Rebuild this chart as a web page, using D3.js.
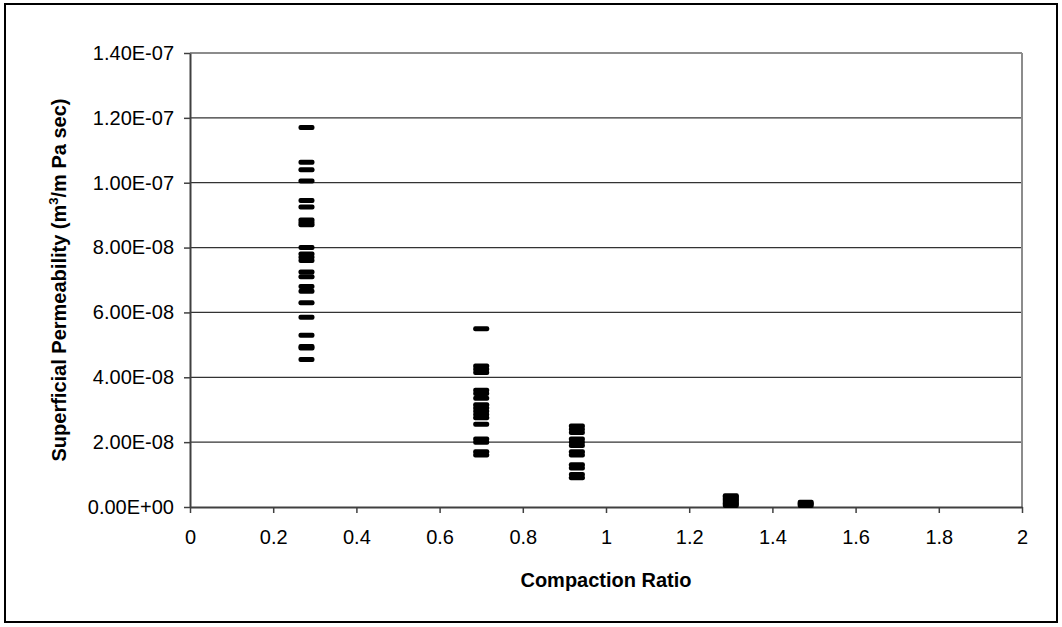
<!DOCTYPE html>
<html>
<head>
<meta charset="utf-8">
<script src="https://cdn.jsdelivr.net/npm/d3@7"></script>
<style>
  body { margin: 0; background: #fff; }
  text { font-family: "Liberation Sans", Arial, sans-serif; }
</style>
</head>
<body>
<div id="chart"></div>
<script>
// compaction ratio of each group
const ratios = [0.28, 0.70, 0.93, 1.30, 1.48];

// superficial permeability readings per group (m3/m Pa sec)
const perm028 = [1.17e-7, 1.063e-7, 1.04e-7, 1.005e-7, 0.945e-7, 0.925e-7, 0.885e-7, 0.877e-7, 0.87e-7,
                 0.80e-7, 0.78e-7, 0.77e-7, 0.76e-7, 0.725e-7, 0.71e-7, 0.68e-7, 0.665e-7, 0.63e-7,
                 0.585e-7, 0.53e-7, 0.495e-7, 0.49e-7, 0.455e-7];
const perm070 = [5.5e-8, 4.35e-8, 4.25e-8, 4.15e-8, 3.6e-8, 3.5e-8, 3.35e-8, 3.15e-8, 3.05e-8, 2.95e-8,
                 2.85e-8, 2.75e-8, 2.55e-8, 2.1e-8, 2.0e-8, 1.7e-8, 1.6e-8];
const perm093 = [2.5e-8, 2.4e-8, 2.3e-8, 2.1e-8, 2.0e-8, 1.9e-8, 1.7e-8, 1.6e-8, 1.3e-8, 1.2e-8, 1.0e-8, 0.9e-8];
const perm130 = [0.35e-8, 0.3e-8, 0.25e-8, 0.2e-8, 0.15e-8, 0.1e-8, 0.05e-8];
const perm148 = [0.15e-8, 0.1e-8, 0.05e-8];

const xTicks = [0, 0.2, 0.4, 0.6, 0.8, 1, 1.2, 1.4, 1.6, 1.8, 2];
const yTicks = [0, 2e-8, 4e-8, 6e-8, 8e-8, 1e-7, 1.2e-7, 1.4e-7];

const groups = [perm028, perm070, perm093, perm130, perm148];
const points = [];
groups.forEach((vals, i) => vals.forEach(v => points.push({ x: ratios[i], y: v })));

const W = 1062, H = 627;
const margin = { top: 53, right: 40, bottom: 120, left: 190 };
const width = W - margin.left - margin.right;
const height = H - margin.top - margin.bottom;

const svg = d3.select('#chart')
              .append('svg')
              .attr('width', W)
              .attr('height', H);

// outer frame
svg.append('rect')
   .attr('x', 5).attr('y', 4)
   .attr('width', W - 10).attr('height', H - 9)
   .attr('fill', 'none')
   .attr('stroke', '#000')
   .attr('stroke-width', 2);

const g = svg.append('g')
             .attr('transform', `translate(${margin.left}, ${margin.top})`);

const xScale = d3.scaleLinear().domain([0, 2]).range([0, width]);
const yScale = d3.scaleLinear().domain([0, 1.4e-7]).range([height, 0]);

// gridlines
g.selectAll('.grid')
 .data(yTicks.slice(1, -1))
 .enter()
 .append('line')
 .attr('class', 'grid')
 .attr('x1', 0).attr('x2', width)
 .attr('y1', d => yScale(d)).attr('y2', d => yScale(d))
 .attr('stroke', '#333')
 .attr('stroke-width', 1.2);

// plot border top/right
g.append('line')
 .attr('x1', 0).attr('x2', width).attr('y1', 0).attr('y2', 0)
 .attr('stroke', '#8c8c8c').attr('stroke-width', 2);
g.append('line')
 .attr('x1', width).attr('x2', width).attr('y1', 0).attr('y2', height)
 .attr('stroke', '#8c8c8c').attr('stroke-width', 2);

const xAxis = d3.axisBottom(xScale)
                .tickValues(xTicks)
                .tickSize(6)
                .tickSizeOuter(0)
                .tickPadding(17)
                .tickFormat(d => String(d));

const yAxis = d3.axisLeft(yScale)
                .tickValues(yTicks)
                .tickSize(6)
                .tickSizeOuter(0)
                .tickPadding(10)
                .tickFormat(d => d === 0 ? '0.00E+00' : d3.format('.2e')(d).replace('e', 'E').replace(/E([+-])(\d)$/, 'E$10$2'));

const gx = g.append('g')
            .attr('transform', `translate(0, ${height})`)
            .call(xAxis);
const gy = g.append('g').call(yAxis);

[gx, gy].forEach(a => {
  a.select('.domain').attr('stroke', '#404040').attr('stroke-width', 2);
  a.selectAll('.tick line').attr('stroke', '#404040').attr('stroke-width', 1.5);
  a.selectAll('.tick text')
   .attr('fill', '#000')
   .style('font-size', '20px')
   .style('font-family', '"Liberation Sans", Arial, sans-serif');
});

// markers (dash)
g.selectAll('.pt')
 .data(points)
 .enter()
 .append('rect')
 .attr('class', 'pt')
 .attr('x', d => xScale(d.x) - 8)
 .attr('y', d => yScale(d.y) - 2.5)
 .attr('width', 16)
 .attr('height', 5)
 .attr('rx', 2)
 .attr('fill', '#000');

// axis titles
svg.append('text')
   .attr('x', margin.left + width / 2)
   .attr('y', 587)
   .attr('text-anchor', 'middle')
   .style('font-size', '20px')
   .style('font-weight', 'bold')
   .text('Compaction Ratio');

const yt = svg.append('text')
   .attr('transform', `translate(66, ${margin.top + height / 2}) rotate(-90)`)
   .attr('text-anchor', 'middle')
   .style('font-size', '20px')
   .style('font-weight', 'bold');
yt.append('tspan').text('Superficial Permeability (m');
yt.append('tspan').attr('dy', -8).style('font-size', '13px').text('3');
yt.append('tspan').attr('dy', 8).text('/m Pa sec)');
</script>
</body>
</html>
